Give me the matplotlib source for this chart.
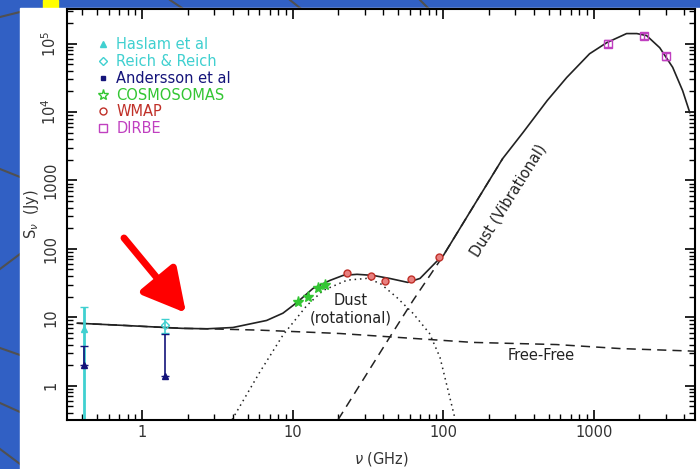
import matplotlib
matplotlib.use("Agg")
import matplotlib.pyplot as plt
import numpy as np
from matplotlib.lines import Line2D
from matplotlib.patches import Rectangle

plt.rcParams['font.family'] = ['DejaVu Sans']

# ---- data ----
# total emission (solid)
total_nu = [0.37, 0.77, 1.84, 2.7, 4.0, 6.7, 8.6, 10.7, 13.6, 17.7, 21.6, 26.7, 34, 44, 58, 70, 90.6, 100,
            157, 248, 338, 490, 660, 937, 1217, 1650, 1930, 2240, 2740, 3340, 3890, 4340]
total_S = [8.2, 7.6, 6.9, 6.8, 7.1, 9.0, 11.5, 16.6, 26.4, 34.7, 41, 42.5, 41, 37, 32.4, 37, 66, 80,
           405, 2090, 5000, 14700, 31900, 71000, 103000, 140000, 140000, 131000, 87000, 45000, 20500, 9800]

# free-free (dashed)
ff_nu = [0.37, 0.77, 1.84, 2.7, 6.0, 20.6, 157, 565, 1480, 4700]
ff_S = [8.2, 7.6, 6.9, 6.8, 6.5, 5.8, 4.3, 4.0, 3.5, 3.2]

# spinning dust (dotted)
rot_nu = [3.95, 6.0, 8.6, 12.4, 15.9, 23, 31, 38, 49, 63, 81, 95, 120]
rot_S = [0.32, 1.55, 5.5, 14.9, 24.7, 35, 37, 31.4, 19.6, 11.4, 5.8, 2.6, 0.32]

# thermal dust (dashed)
vib_nu = [20, 44, 63, 100, 157, 248]
vib_S = [0.32, 5.1, 17.7, 80, 405, 2090]

# measurements
haslam_nu, haslam_S, haslam_lo, haslam_hi = [0.408], [6.7], [6.5], [7.3]
reich_nu, reich_S, reich_lo, reich_hi = [1.42], [7.6], [1.6], [1.8]
anders_nu, anders_S, anders_hi = [0.408, 1.42], [2.0, 1.38], [1.8, 4.4]
cosmo_nu = [10.9, 12.7, 14.7, 16.3]
cosmo_S = [17, 19.5, 27, 30]
wmap_nu = [23, 33, 41, 61, 94]
wmap_S = [44, 40.8, 33.6, 35.8, 75]
dirbe_nu = [1250, 2140, 3000]
dirbe_S = [100000, 130000, 65000]
dirbe_err = [12000, 15000, 8000]

legend_labels = ["Haslam et al", "Reich & Reich", "Andersson et al", "COSMOSOMAS", "WMAP", "DIRBE"]

# colours
cyan = '#40d0d0'
navy = '#14147a'
green = '#33c633'
red = '#c03028'
magenta = '#c040c0'
blue_bg = '#3160c4'

fig = plt.figure(figsize=(7, 4.69), dpi=100, facecolor=blue_bg)

# slide decoration
for (x0, y0, x1, y1) in [(0, 452, 20, 457), (0, 300, 20, 292), (0, 121, 20, 114), (0, 66, 20, 57),
                         (0, 200, 20, 215), (0, 20, 20, 5), (290, 469, 300, 461), (170, 469, 182, 461),
                         (420, 469, 428, 461)]:
    fig.add_artist(Line2D([x0 / 700, x1 / 700], [y0 / 469, y1 / 469], transform=fig.transFigure,
                          color='#505050', lw=1.5, zorder=0))
fig.add_artist(Rectangle((43 / 700, 461 / 469), 15 / 700, 8 / 469, transform=fig.transFigure,
                         color='#ffff00', zorder=0.5))
fig.add_artist(Rectangle((20 / 700, 0), 680 / 700, 461 / 469, transform=fig.transFigure,
                         color='white', zorder=1))

ax = fig.add_axes([67 / 700, 49 / 469, 628 / 700, 411 / 469])
ax.set_zorder(2)
ax.patch.set_alpha(0)

ax.plot(ff_nu, ff_S, color='#222222', lw=1.1, ls=(0, (6, 4)))
ax.plot(rot_nu, rot_S, color='#222222', lw=1.1, ls=(0, (1, 2.5)))
ax.plot(vib_nu, vib_S, color='#222222', lw=1.1, ls=(0, (6, 4)))
ax.plot(total_nu, total_S, color='#222222', lw=1.2)

ax.errorbar(haslam_nu, haslam_S, yerr=[haslam_lo, haslam_hi], fmt='^', color=cyan, ms=5,
            elinewidth=2, capsize=3)
ax.errorbar(reich_nu, reich_S, yerr=[reich_lo, reich_hi], fmt='D', color=cyan, mfc='none', ms=4,
            elinewidth=1.2, capsize=3)
ax.errorbar(anders_nu, anders_S, yerr=[[0, 0], anders_hi], fmt='^', color=navy, ms=4,
            elinewidth=1.2, capsize=3)
ax.plot(cosmo_nu, cosmo_S, ls='none', marker='*', color=green, ms=8)
ax.plot(wmap_nu, wmap_S, ls='none', marker='o', mfc='#e88080', mec=red, ms=5)
ax.errorbar(dirbe_nu, dirbe_S, yerr=dirbe_err, fmt='s', color=magenta, mfc='none', ms=6,
            elinewidth=1, capsize=3)

ax.set_xscale('log')
ax.set_yscale('log')
ax.set_xlim(0.316, 4700)
ax.set_ylim(0.316, 3.2e5)

ax.set_xticks([1, 10, 100, 1000])
ax.set_xticklabels(['1', '10', '100', '1000'])
ax.set_yticks([1, 10, 100, 1000, 1e4, 1e5])
ax.set_yticklabels(['1', '10', '100', '1000', r'$10^4$', r'$10^5$'], rotation=90, va='center')
ax.tick_params(which='both', direction='in', top=True, right=True, labelcolor='#333333',
               labelsize=10.5)
ax.tick_params(which='major', length=7, width=1.2)
ax.tick_params(which='minor', length=4, width=1)
ax.tick_params(axis='y', pad=6)
for s in ax.spines.values():
    s.set_linewidth(1.5)

ax.set_xlabel(r'$\nu$ (GHz)', fontsize=10.5, color='#333333', labelpad=7)
ax.set_ylabel(r'S$_\nu$  (Jy)', fontsize=10.5, color='#333333', labelpad=-1)

ax.text(24.4, 13.1, "Dust\n(rotational)", ha='center', va='center', fontsize=10.5, color='#222222',
        linespacing=1.2)
ax.text(445, 2.8, "Free-Free", ha='center', va='center', fontsize=10.5, color='#222222')
ax.text(270, 510, "Dust (Vibrational)", ha='center', va='center', fontsize=10.5, color='#222222',
        rotation=58)

handles = [
    Line2D([], [], ls='none', marker='^', color=cyan, ms=5),
    Line2D([], [], ls='none', marker='D', color=cyan, mfc='none', ms=4),
    Line2D([], [], ls='none', marker='s', color=navy, ms=3),
    Line2D([], [], ls='none', marker='*', color=green, mfc='none', ms=8),
    Line2D([], [], ls='none', marker='o', color=red, mfc='none', ms=5),
    Line2D([], [], ls='none', marker='s', color=magenta, mfc='none', ms=6),
]
ax.legend(handles, legend_labels, loc='upper left', bbox_to_anchor=(0.037, 0.945), frameon=False,
          fontsize=10.5, labelcolor=[cyan, cyan, navy, green, red, magenta], handletextpad=0.4,
          labelspacing=0.12, handlelength=1.0, borderaxespad=0)

ax.annotate('', xy=(186, 469 - 313), xytext=(124, 469 - 238), xycoords='figure pixels',
            textcoords='figure pixels',
            arrowprops=dict(arrowstyle='-|>,head_width=0.7,head_length=1.3', color='#ff0000', lw=5,
                            mutation_scale=20, shrinkA=0, shrinkB=0))

fig.savefig('out.png', dpi=100, facecolor=fig.get_facecolor())
